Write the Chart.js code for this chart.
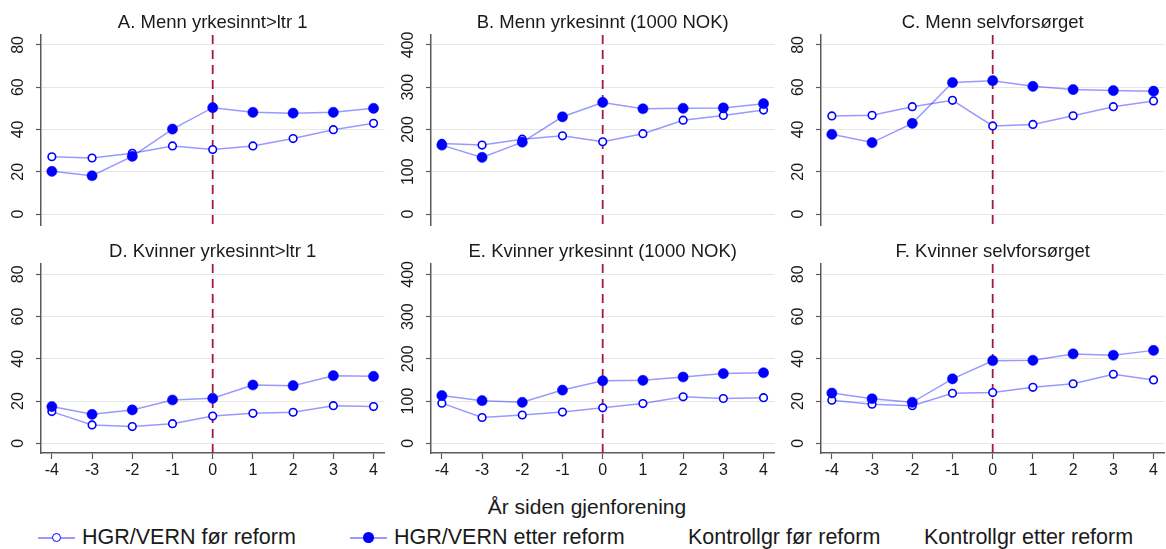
<!DOCTYPE html>
<html lang="no">
<head>
<meta charset="utf-8">
<title>HGR/VERN før og etter reform</title>
<script src="https://cdn.jsdelivr.net/npm/chart.js@4.4.1/dist/chart.umd.min.js"></script>
<style>
  html, body { margin: 0; padding: 0; background: #fff; }
  #figure {
    position: relative;
    width: 1166px;
    height: 549px;
    overflow: hidden;
    font-family: "Liberation Sans", Arial, sans-serif;
    color: #1a1a1a;
  }
  #figure canvas { position: absolute; }
  .axis-title {
    position: absolute;
    left: 0;
    width: 1174px;
    top: 496px;
    text-align: center;
    font-size: 21px;
    line-height: 21px;
  }
  .key {
    position: absolute;
    top: 527px;
    display: flex;
    align-items: center;
    font-size: 21.5px;
    line-height: 21px;
    white-space: nowrap;
  }
  .swatch {
    position: relative;
    width: 37px;
    height: 21px;
    margin-right: 7px;
  }
  .swatch::before {
    content: "";
    position: absolute;
    left: 0;
    right: 0;
    top: 10px;
    height: 1.5px;
    background: rgba(0, 0, 255, 0.4);
  }
  .swatch::after {
    content: "";
    position: absolute;
    left: 50%;
    top: 50%;
    box-sizing: border-box;
    border-radius: 50%;
  }
  .swatch.hollow::after {
    width: 9.4px;
    height: 9.4px;
    margin: -4.7px 0 0 -4.7px;
    border: 1.6px solid #0000ff;
    background: #fff;
  }
  .swatch.filled::after {
    width: 10.6px;
    height: 10.6px;
    margin: -5.3px 0 0 -5.3px;
    background: #0000ff;
  }
</style>
</head>
<body>
<div id="figure">
  <canvas id="panelA" width="390" height="232" style="left:0;top:0"></canvas>
  <canvas id="panelB" width="390" height="232" style="left:390px;top:0"></canvas>
  <canvas id="panelC" width="390" height="232" style="left:780px;top:0"></canvas>
  <canvas id="panelD" width="390" height="251" style="left:0;top:229px"></canvas>
  <canvas id="panelE" width="390" height="251" style="left:390px;top:229px"></canvas>
  <canvas id="panelF" width="390" height="251" style="left:780px;top:229px"></canvas>

  <div class="axis-title">År siden gjenforening</div>

  <div class="key" style="left:38px"><span class="swatch hollow"></span><span>HGR/VERN før reform</span></div>
  <div class="key" style="left:350px"><span class="swatch filled"></span><span>HGR/VERN etter reform</span></div>
  <div class="key" style="left:688px"><span>Kontrollgr før reform</span></div>
  <div class="key" style="left:924px"><span>Kontrollgr etter reform</span></div>
</div>

<script>
// Years relative to reunification, and the reform year marked with a dashed line
const years = [-4, -3, -2, -1, 0, 1, 2, 3, 4];
const reformYear = 0;

// Tick labels
const pctTicks = [0, 20, 40, 60, 80];
const nokTicks = [0, 100, 200, 300, 400];

// Panel titles
const titles = [
  'A. Menn yrkesinnt>ltr 1',
  'B. Menn yrkesinnt (1000 NOK)',
  'C. Menn selvforsørget',
  'D. Kvinner yrkesinnt>ltr 1',
  'E. Kvinner yrkesinnt (1000 NOK)',
  'F. Kvinner selvforsørget',
];

// Men: share with earnings above 1 G (percent)
const menOver1Before = [27.1, 26.5, 28.7, 32.2, 30.5, 32.2, 35.7, 39.9, 42.9];
const menOver1After = [20.2, 18.1, 27.3, 40.2, 50.3, 48.1, 47.7, 48.1, 50.0];

// Men: earnings (1000 NOK)
const menIncomeBefore = [167, 163, 177, 185, 171, 190, 222, 233, 246];
const menIncomeAfter = [163, 134, 170, 230, 264, 249, 250, 251, 261];

// Men: self-supporting (percent)
const menSelfBefore = [46.4, 46.7, 50.8, 53.8, 41.7, 42.4, 46.5, 50.8, 53.5];
const menSelfAfter = [37.7, 33.8, 42.9, 62.2, 63.1, 60.4, 58.9, 58.4, 58.1];

// Women: share with earnings above 1 G (percent)
const womenOver1Before = [15.0, 8.7, 7.9, 9.3, 12.9, 14.2, 14.7, 17.8, 17.4];
const womenOver1After = [17.4, 13.7, 15.8, 20.5, 21.3, 27.6, 27.3, 32.0, 31.7];

// Women: earnings (1000 NOK)
const womenIncomeBefore = [95, 61, 67, 74, 84, 94, 110, 106, 108];
const womenIncomeAfter = [113, 101, 97, 126, 148, 149, 157, 165, 167];

// Women: self-supporting (percent)
const womenSelfBefore = [20.4, 18.5, 17.8, 23.7, 24.0, 26.5, 28.2, 32.7, 30.0];
const womenSelfAfter = [23.8, 21.1, 19.4, 30.5, 39.1, 39.3, 42.3, 41.7, 44.0];

const FONT = '"Liberation Sans", Arial, sans-serif';
const TEXT = '#1a1a1a';
const LINE_BLUE = 'rgba(0, 0, 255, 0.4)';
const MARK_BLUE = '#0000ff';
const AXIS_GREY = '#5a5a5a';
const GRID_GREY = '#e6e6e6';
const TICK_SIZE = 16;

// Rotated y tick labels
const yLabels = {
  id: 'yLabels',
  afterDraw(chart) {
    const { ctx, chartArea } = chart;
    const scale = chart.scales.y;
    ctx.save();
    ctx.font = `${TICK_SIZE}px ${FONT}`;
    ctx.fillStyle = TEXT;
    ctx.textAlign = 'center';
    ctx.textBaseline = 'middle';
    scale.ticks.forEach((tick) => {
      const y = scale.getPixelForValue(tick.value);
      ctx.save();
      ctx.translate(chartArea.left - 22, y);
      ctx.rotate(-Math.PI / 2);
      ctx.fillText(String(tick.value), 0, 0);
      ctx.restore();
    });
    ctx.restore();
  },
};

// Dashed vertical line at the reform year
const reformLine = {
  id: 'reformLine',
  beforeDatasetsDraw(chart) {
    const { ctx, chartArea } = chart;
    const x = chart.scales.x.getPixelForValue(reformYear);
    ctx.save();
    ctx.strokeStyle = '#a8173f';
    ctx.lineWidth = 1.8;
    ctx.setLineDash([9, 6]);
    ctx.beginPath();
    ctx.moveTo(x, chartArea.top);
    ctx.lineTo(x, chartArea.bottom);
    ctx.stroke();
    ctx.restore();
  },
};

function points(values) {
  return years.map((x, i) => ({ x, y: values[i] }));
}

function makePanel(id, title, before, after, ticks, bottomRow) {
  const unit = ticks[1] / 20;
  const yMin = (bottomRow ? -4.6 : -5.2) * unit;
  const yMax = (bottomRow ? 84.9 : 84.7) * unit;

  return new Chart(document.getElementById(id), {
    type: 'line',
    data: {
      datasets: [
        {
          label: 'HGR/VERN før reform',
          data: points(before),
          borderColor: LINE_BLUE,
          borderWidth: 1.5,
          pointRadius: 3.8,
          pointBorderWidth: 1.6,
          pointBorderColor: MARK_BLUE,
          pointBackgroundColor: '#ffffff',
          order: 2,
        },
        {
          label: 'HGR/VERN etter reform',
          data: points(after),
          borderColor: LINE_BLUE,
          borderWidth: 1.5,
          pointRadius: 5.1,
          pointBorderWidth: 0.5,
          pointBorderColor: MARK_BLUE,
          pointBackgroundColor: MARK_BLUE,
          order: 1,
        },
      ],
    },
    options: {
      responsive: false,
      animation: false,
      devicePixelRatio: 1,
      layout: { padding: { left: 0, right: 4, top: 0, bottom: bottomRow ? 0 : 7 } },
      plugins: {
        legend: { display: false },
        tooltip: { enabled: false },
        title: {
          display: true,
          text: title,
          fullSize: false,
          color: TEXT,
          font: { family: FONT, size: 18.5, weight: 'normal', lineHeight: 1.2 },
          padding: { top: 11.8, bottom: 1 },
        },
      },
      scales: {
        x: {
          type: 'linear',
          min: -4.27,
          max: 4.27,
          display: bottomRow,
          afterBuildTicks: (scale) => {
            scale.ticks = years.map((value) => ({ value }));
          },
          afterFit: (scale) => {
            // only the bottom row carries the year axis
            scale.height = bottomRow ? 27 : 0;
          },
          border: { display: true, color: AXIS_GREY, width: 1.5 },
          grid: {
            drawOnChartArea: false,
            drawTicks: true,
            tickLength: 6,
            tickColor: AXIS_GREY,
            tickWidth: 1.2,
          },
          ticks: {
            color: TEXT,
            padding: 2,
            maxRotation: 0,
            font: { family: FONT, size: TICK_SIZE },
          },
        },
        y: {
          type: 'linear',
          min: yMin,
          max: yMax,
          afterBuildTicks: (scale) => {
            scale.ticks = ticks.map((value) => ({ value }));
          },
          afterFit: (scale) => {
            scale.width = 41;
          },
          border: { display: true, color: AXIS_GREY, width: 1.5 },
          grid: {
            color: GRID_GREY,
            lineWidth: 1,
            drawTicks: true,
            tickLength: 5,
            tickColor: AXIS_GREY,
            tickWidth: 1.2,
          },
          ticks: { display: false },
        },
      },
    },
    plugins: [yLabels, reformLine],
  });
}

makePanel('panelA', titles[0], menOver1Before, menOver1After, pctTicks, false);
makePanel('panelB', titles[1], menIncomeBefore, menIncomeAfter, nokTicks, false);
makePanel('panelC', titles[2], menSelfBefore, menSelfAfter, pctTicks, false);
makePanel('panelD', titles[3], womenOver1Before, womenOver1After, pctTicks, true);
makePanel('panelE', titles[4], womenIncomeBefore, womenIncomeAfter, nokTicks, true);
makePanel('panelF', titles[5], womenSelfBefore, womenSelfAfter, pctTicks, true);
</script>
</body>
</html>
